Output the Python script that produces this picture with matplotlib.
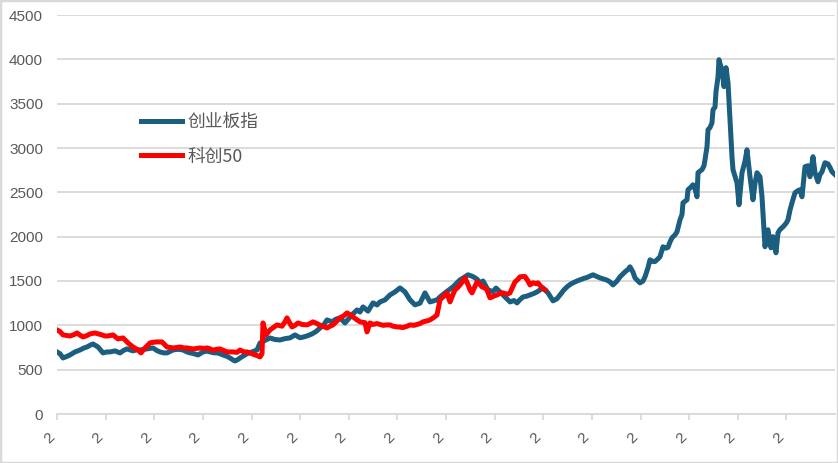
import matplotlib
matplotlib.use('Agg')
import matplotlib.pyplot as plt
import matplotlib.transforms as mtransforms
from matplotlib.patches import Rectangle
import numpy as np

plt.rcParams['font.family'] = ['Liberation Sans', 'Noto Sans CJK SC', 'DejaVu Sans']

# 创业板指 (day index, value)
cyb_day = [57, 60, 63, 67, 70, 75, 80, 84, 87, 90,
           93, 98, 103, 107, 110, 115, 120, 124, 127, 133,
           137, 140, 147, 153, 157, 160, 164, 167, 173, 178,
           183, 187, 190, 194, 198, 203, 207, 210, 214, 217,
           220, 223, 227, 230, 233, 235, 238, 240, 244, 247,
           252, 257, 260, 265, 270, 275, 280, 285, 290, 295,
           300, 304, 307, 312, 316, 320, 324, 327, 332, 336,
           340, 345, 349, 352, 357, 360, 363, 368, 373, 377,
           380, 385, 390, 395, 400, 405, 410, 415, 420, 425,
           430, 437, 441, 445, 449, 453, 457, 460, 464, 468,
           473, 477, 480, 483, 488, 493, 496, 500, 505, 510,
           514, 517, 520, 523, 527, 530, 534, 537, 540, 543,
           548, 553, 557, 560, 564, 567, 570, 573, 577, 580,
           584, 587, 590, 593, 597, 600, 604, 607, 610, 613,
           617, 620, 623, 625, 628, 630, 633, 635, 638, 640,
           643, 645, 648, 650, 653, 655, 658, 660, 663, 666,
           668, 670, 672, 675, 677, 680, 682, 683, 687, 688,
           691, 693, 695, 697, 698, 700, 702, 704, 705, 707,
           708, 710, 712, 713, 715, 716, 718, 719, 720, 722,
           724, 726, 728, 730, 731, 732, 733, 735, 737, 739,
           742, 745, 747, 750, 753, 755, 757, 760, 762, 765,
           768, 771, 773, 776, 778, 780, 783, 786, 788, 790,
           792, 795, 798, 800, 802, 805, 808, 810, 813, 815,
           818, 820, 822, 825, 828, 830, 832, 835]
cyb_val = [700, 680, 632, 650, 666, 700, 722, 745, 756, 775,
           790, 756, 689, 700, 700, 712, 689, 720, 734, 712,
           725, 722, 734, 745, 715, 700, 689, 689, 722, 730,
           722, 700, 690, 680, 666, 700, 710, 700, 690, 689,
           680, 666, 650, 632, 610, 598, 615, 632, 660, 680,
           700, 722, 800, 830, 858, 840, 835, 850, 858, 892,
           860, 870, 880, 903, 930, 970, 1010, 1061, 1040, 1070,
           1084, 1027, 1080, 1118, 1174, 1150, 1208, 1160, 1253, 1230,
           1264, 1287, 1343, 1377, 1422, 1377, 1287, 1231, 1250, 1366,
           1264, 1287, 1330, 1366, 1400, 1434, 1480, 1513, 1540, 1570,
           1550, 1520, 1479, 1500, 1400, 1380, 1420, 1377, 1321, 1264,
           1280, 1253, 1290, 1320, 1330, 1343, 1360, 1377, 1400, 1422,
           1366, 1276, 1300, 1343, 1400, 1434, 1460, 1479, 1500, 1513,
           1530, 1540, 1555, 1570, 1550, 1535, 1520, 1510, 1490, 1456,
           1500, 1547, 1580, 1603, 1630, 1660, 1600, 1535, 1500, 1479,
           1500, 1547, 1650, 1739, 1720, 1720, 1750, 1773, 1886, 1870,
           1880, 1940, 1987, 2020, 2055, 2190, 2250, 2382, 2416, 2529,
           2560, 2585, 2540, 2450, 2721, 2740, 2755, 2800, 2868, 3014,
           3206, 3230, 3285, 3432, 3460, 3635, 3800, 3996, 3950, 3884,
           3692, 3906, 3737, 3319, 3100, 2902, 2755, 2680, 2608, 2360,
           2721, 2850, 2980, 2676, 2416, 2600, 2721, 2676, 2450, 1886,
           2078, 1874, 2000, 1818, 2044, 2080, 2111, 2150, 2190, 2300,
           2382, 2495, 2520, 2529, 2450, 2789, 2800, 2676, 2902, 2720,
           2619, 2700, 2732, 2834, 2820, 2780, 2732, 2700]

# 科创50 (day index, value)
kc_day = [57, 60, 63, 67, 70, 74, 77, 80, 83, 87,
          90, 95, 98, 102, 105, 108, 113, 118, 123, 128,
          133, 138, 141, 145, 150, 154, 157, 162, 167, 170,
          173, 177, 180, 184, 187, 190, 193, 197, 200, 204,
          207, 210, 213, 217, 220, 224, 227, 230, 233, 237,
          240, 244, 247, 250, 254, 257, 260, 262, 263, 266,
          270, 274, 277, 282, 285, 287, 290, 292, 295, 298,
          302, 307, 310, 313, 317, 320, 324, 327, 330, 333,
          337, 340, 344, 347, 350, 353, 356, 360, 365, 367,
          370, 373, 377, 380, 383, 387, 390, 393, 397, 400,
          403, 407, 410, 414, 417, 420, 423, 427, 430, 434,
          437, 440, 442, 445, 447, 450, 453, 455, 458, 460,
          463, 465, 468, 470, 472, 475, 477, 480, 482, 485,
          487, 490, 494, 497, 500, 503, 507, 510, 513, 515,
          518, 520, 523, 525, 528, 530, 533, 536, 538, 542,
          545]
kc_val = [948, 930, 892, 885, 880, 895, 914, 890, 869, 885,
          903, 914, 905, 892, 880, 880, 892, 847, 858, 802,
          756, 722, 689, 745, 802, 810, 813, 813, 756, 750,
          745, 750, 756, 745, 745, 740, 734, 740, 745, 740,
          745, 735, 720, 730, 734, 715, 700, 700, 700, 695,
          722, 700, 700, 689, 670, 660, 644, 680, 1027, 892,
          948, 980, 1005, 990, 1040, 1084, 1020, 982, 1000, 1027,
          1010, 1005, 1020, 1039, 1020, 1000, 985, 970, 990, 1005,
          1050, 1084, 1110, 1140, 1120, 1095, 1070, 1039, 1030, 926,
          1027, 1010, 1020, 1010, 1000, 1005, 1005, 990, 982, 980,
          975, 990, 1005, 1000, 1010, 1020, 1039, 1050, 1061, 1090,
          1118, 1287, 1310, 1340, 1366, 1264, 1350, 1400, 1430, 1456,
          1500, 1535, 1460, 1400, 1366, 1440, 1490, 1460, 1434, 1420,
          1400, 1310, 1330, 1343, 1360, 1366, 1350, 1366, 1440, 1490,
          1520, 1547, 1550, 1550, 1500, 1456, 1480, 1470, 1479, 1422,
          1400]

y_ticks = list(range(0, 4501, 500))
x_label = '2'

fig = plt.figure(figsize=(8.38, 4.63), dpi=100)
ax = fig.add_axes([57/838, 49/463, 778/838, 399/463])

ax.plot(cyb_day, cyb_val, color='#1B5E80', lw=3.6, solid_joinstyle='round', label='创业板指')
ax.plot(kc_day, kc_val, color='#FF0000', lw=3.6, solid_joinstyle='round', label='科创50')

ax.set_xlim(57, 835)
ax.set_ylim(0, 4500)
ax.set_yticks(y_ticks)
xt = np.linspace(57, 835, 17)[:-1]
ax.set_xticks(xt)
ax.set_xticklabels([x_label] * len(xt), rotation=45, ha='right', va='top')
offset = mtransforms.ScaledTranslation(-6/72, 0, fig.dpi_scale_trans)
for lab in ax.get_xticklabels():
    lab.set_transform(lab.get_transform() + offset)

ax.yaxis.grid(True, color='#D9D9D9', lw=1.3)
ax.set_axisbelow(True)
for s in ['top', 'right', 'left']:
    ax.spines[s].set_visible(False)
ax.spines['bottom'].set_color('#D9D9D9')
ax.spines['bottom'].set_linewidth(1.3)
ax.tick_params(axis='y', length=0, pad=10, labelsize=11, labelcolor='#595959')
ax.tick_params(axis='x', length=4, width=1.3, color='#D9D9D9', pad=8, labelsize=11, labelcolor='#595959')

leg = ax.legend(loc='upper left', bbox_to_anchor=(0.088, 0.795), frameon=False,
                handlelength=2.3, handletextpad=0.3, labelspacing=0.95,
                prop={'family': ['Noto Sans CJK SC', 'DejaVu Sans'], 'size': 12.8})
for t in leg.get_texts():
    t.set_color('#595959')

fig.patches.append(Rectangle((0, 0), 1, 1, transform=fig.transFigure, fill=False,
                             edgecolor='#D9D9D9', lw=2.5))

fig.savefig('out.png', dpi=100)
